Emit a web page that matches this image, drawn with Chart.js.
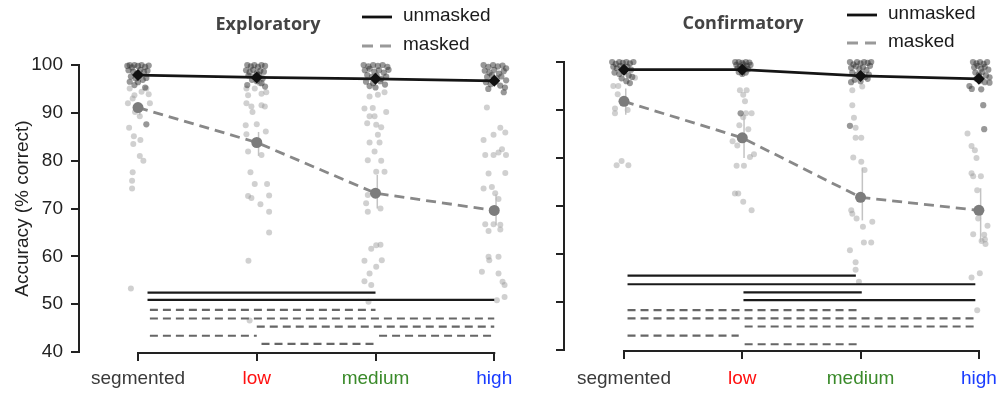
<!DOCTYPE html>
<html><head><meta charset="utf-8">
<script src="https://cdn.jsdelivr.net/npm/chart.js@4.4.1/dist/chart.umd.min.js"></script>
<style>
html,body{margin:0;padding:0;background:#fff;width:1005px;height:393px;overflow:hidden;}
canvas{position:absolute;top:0;}
#cl{left:0}
#cr{left:520px}
</style></head><body>
<canvas id="cl" width="520" height="393"></canvas>
<canvas id="cr" width="485" height="393"></canvas>
<script>
// ---------- DATA ----------
const categories = ['segmented', 'low', 'medium', 'high'];
const yTickValues = [40, 50, 60, 70, 80, 90, 100];
const panelTitles = ['Exploratory', 'Confirmatory'];
const legendLabels = ['unmasked', 'masked'];
const yAxisTitle = 'Accuracy (% correct)';

// group means
const expUnmaskedMean = [97.9, 97.4, 97.1, 96.7];
const expMaskedMean = [91.1, 83.8, 73.2, 69.6];
const confUnmaskedMean = [98.4, 98.4, 97.1, 96.5];
const confMaskedMean = [91.8, 84.2, 71.8, 69.1];

// error bars of masked means [low, high]
const expMaskedErr = [[89.5, 92.0], [81.0, 86.0], [70.0, 77.0], [66.5, 73.0]];
const confMaskedErr = [[89.0, 94.5], [80.0, 89.0], [67.0, 78.0], [62.5, 73.7]];

// individual subjects: [jitter offset (category units), accuracy]
const expUnmaskedPts = [
  [[-0.09,99.8],[-0.07,100],[-0.05,99.5],[-0.03,100],[0,99.8],[0.03,100],[0.06,99.6],[0.09,99.9],[-0.08,98.9],[-0.04,98.6],[-0.01,98.2],[0.02,99.0],[0.05,98.5],[0.08,98.8],[-0.06,97.6],[-0.02,97.2],[0.01,97.8],[0.04,96.9],[0.07,97.3],[-0.07,96.5],[0.0,96.4],[0.06,95.3],[-0.03,95.8],[0.07,87.6]],
  [[-0.08,100],[-0.05,99.7],[-0.02,100],[0.01,99.6],[0.04,100],[0.07,99.8],[-0.09,98.9],[-0.06,98.5],[-0.03,99.0],[0.0,98.3],[0.03,98.8],[0.06,98.6],[-0.07,97.8],[-0.02,97.5],[0.02,97.9],[0.05,97.2],[-0.04,96.9],[0.0,96.6],[0.04,96.2],[-0.08,95.8],[0.07,95.5]],
  [[-0.1,100],[-0.06,99.7],[-0.02,100],[0.02,99.8],[0.06,100],[0.1,99.6],[-0.09,98.9],[-0.05,99.2],[-0.01,98.6],[0.03,98.9],[0.07,98.4],[0.11,99.0],[-0.07,97.9],[-0.03,97.5],[0.01,97.8],[0.05,97.1],[0.09,97.6],[-0.08,96.5],[-0.02,96.2],[0.04,96.6],[0.08,95.9],[0.0,95.3],[-0.05,95.6]],
  [[-0.09,100],[-0.05,99.6],[-0.01,100],[0.03,99.7],[0.07,99.9],[0.1,99.3],[-0.08,98.8],[-0.04,98.4],[0.0,99.0],[0.04,98.2],[0.08,98.7],[-0.06,97.5],[-0.02,97.9],[0.02,97.2],[0.06,97.6],[0.1,96.8],[-0.07,96.4],[-0.03,96.0],[0.01,96.5],[0.05,95.7],[0.09,95.3],[-0.05,95.0],[0.08,94.3]]
];
const expMaskedPts = [
  [[-0.07,95.1],[-0.03,93.7],[-0.045,93.0],[-0.085,92.0],[0.03,94.4],[0.07,95.1],[0.09,93.9],[0.10,92.0],[-0.025,90.2],[0.015,89.3],[-0.075,86.9],[-0.035,85.1],[0.02,84.3],[-0.04,83.5],[0.015,81.0],[0.045,80.0],[-0.045,77.6],[-0.05,75.8],[-0.05,74.2],[-0.06,53.3]],
  [[-0.087,95.1],[-0.017,95.1],[0.025,96.2],[-0.073,93.7],[0.04,94.0],[0.08,94.3],[-0.087,92.0],[-0.045,91.3],[0.04,91.6],[0.068,91.3],[-0.036,90.2],[-0.093,87.4],[0.0,87.6],[0.076,86.1],[-0.087,85.5],[-0.073,81.9],[0.04,81.2],[-0.053,77.6],[-0.017,75.1],[0.087,75.1],[-0.073,72.6],[-0.045,72.2],[0.031,70.9],[0.104,72.7],[0.104,69.3],[0.104,65.0],[-0.07,59.1],[-0.06,46.6]],
  [[-0.05,93.4],[0.02,93.8],[0.076,94.3],[-0.093,90.9],[-0.023,91.0],[0.09,90.2],[-0.05,89.3],[-0.008,89.3],[-0.07,87.8],[0.006,87.5],[0.048,87.0],[0.02,85.4],[-0.05,83.8],[0.034,83.8],[-0.008,81.9],[-0.065,80.1],[0.048,80.0],[0.006,77.7],[0.076,77.7],[-0.065,72.8],[-0.079,71.1],[-0.065,69.3],[0.042,70.0],[-0.036,61.6],[0.006,62.3],[0.042,62.4],[-0.093,59.1],[0.053,59.2],[0.006,57.8],[-0.05,56.4],[-0.093,54.8],[-0.036,54.0],[-0.059,50.5]],
  [[-0.062,91.1],[0.051,86.9],[-0.006,85.4],[0.093,85.9],[-0.09,84.3],[0.065,82.4],[-0.076,81.2],[-0.006,81.2],[0.036,81.7],[0.099,81.2],[-0.048,77.3],[0.093,77.4],[-0.09,74.2],[-0.02,74.5],[0.008,73.2],[0.036,72.0],[-0.076,66.7],[-0.006,66.7],[0.051,66.6],[0.051,65.6],[-0.048,65.3],[-0.048,59.9],[0.036,59.9],[-0.042,59.2],[-0.104,56.8],[0.036,56.4],[0.07,54.7],[0.087,54.0],[0.087,51.5],[0.022,50.8]]
];
const confUnmaskedPts = [
  [[-0.1,100],[-0.07,99.6],[-0.04,100],[-0.01,99.8],[0.02,100],[0.05,99.7],[0.08,100],[-0.09,99.0],[-0.06,98.7],[-0.03,99.2],[0.0,98.6],[0.03,99.0],[0.06,98.4],[-0.08,97.8],[-0.04,97.5],[0.0,97.9],[0.04,97.2],[0.07,96.9],[-0.02,96.6],[0.02,96.0],[0.05,95.6]],
  [[-0.06,100],[-0.03,100],[0.0,99.8],[0.03,100],[0.06,99.9],[-0.05,99.4],[-0.02,99.1],[0.01,99.5],[0.04,99.2],[0.07,99.4],[-0.04,98.7],[-0.01,98.4],[0.02,98.8],[0.05,98.5],[-0.03,97.9],[0.03,97.8],[0.0,97.5],[-0.014,89.3]],
  [[-0.09,100],[-0.06,99.5],[-0.03,100],[0.0,99.7],[0.03,100],[0.06,99.8],[0.09,100],[-0.08,98.8],[-0.04,99.1],[-0.01,98.5],[0.02,98.9],[0.05,98.3],[0.08,99.2],[-0.07,97.8],[-0.03,97.4],[0.01,97.6],[0.04,96.9],[0.07,97.4],[-0.05,96.3],[0.0,96.0],[-0.08,95.8],[0.06,96.5],[-0.09,86.7]],
  [[-0.05,100],[-0.02,99.7],[0.01,100],[0.04,99.6],[0.07,100],[-0.04,98.9],[-0.01,99.2],[0.02,98.6],[0.05,99.0],[0.08,98.4],[-0.03,97.8],[0.0,97.4],[0.03,97.9],[0.06,97.2],[0.09,96.8],[-0.02,96.5],[0.01,96.1],[0.05,95.8],[-0.08,95.0],[-0.06,94.4],[0.02,94.3],[0.09,95.7],[0.037,91.0],[0.045,86.0]]
];
const confMaskedPts = [
  [[-0.09,95.0],[-0.048,95.0],[0.093,96.7],[-0.053,93.3],[-0.076,90.3],[-0.076,89.3],[0.031,90.0],[-0.062,78.5],[-0.02,79.4],[0.037,78.5]],
  [[-0.02,94.1],[0.037,94.1],[0.008,93.2],[0.023,91.8],[0.031,89.3],[0.079,89.3],[0.008,88.5],[-0.025,86.8],[0.051,86.0],[-0.082,83.5],[-0.042,82.6],[0.065,80.2],[0.099,80.8],[-0.048,78.4],[0.014,78.4],[-0.062,72.6],[-0.034,72.6],[0.008,70.9],[0.079,69.1]],
  [[-0.07,94.1],[0.014,94.9],[-0.07,91.0],[-0.056,88.4],[-0.042,86.3],[-0.042,84.2],[0.006,84.2],[-0.062,80.1],[0.006,79.2],[0.034,77.5],[-0.079,69.1],[-0.07,68.4],[-0.034,67.4],[0.099,66.7],[0.02,65.7],[0.028,62.4],[0.09,62.4],[-0.09,60.8],[-0.042,58.3],[-0.042,56.7],[-0.014,54.2]],
  [[-0.096,85.1],[-0.062,82.5],[-0.034,81.6],[-0.02,80.0],[-0.062,76.8],[-0.048,76.2],[0.017,76.2],[-0.014,73.3],[-0.006,67.4],[0.073,65.9],[-0.048,64.1],[0.045,64.0],[0.051,63.0],[0.023,62.7],[0.056,62.1],[0.008,56.0],[-0.062,55.1],[-0.014,48.3]]
];

// pairwise significance bars: [from category, to category, height]
const expSigSolid = [[0.08, 2.0, 52.4], [0.08, 3.0, 50.9]];
const expSigDashed = [[0.1, 2.0, 48.8], [0.1, 3.0, 47.0], [1.0, 3.0, 45.3], [0.1, 1.0, 43.4], [2.03, 3.0, 43.4], [1.04, 2.0, 41.7]];
const confSigSolid = [[0.03, 1.96, 55.5], [0.03, 2.97, 53.7], [1.01, 2.01, 52.0], [1.01, 2.97, 50.4]];
const confSigDashed = [[0.03, 1.98, 48.3], [0.03, 2.97, 46.6], [1.02, 2.97, 44.9], [0.03, 0.97, 43.0], [1.02, 1.98, 41.2]];

// ---------- STYLE ----------
const FONT = '"Liberation Sans", Arial, Helvetica, sans-serif';
const catColors = ['#3a3a3a', '#ff1010', '#3a8a2a', '#1a3cff'];
Chart.defaults.font.family = FONT;
Chart.defaults.font.size = 19;
Chart.defaults.color = '#222';

function pointsOf(groups) {
  const out = [];
  groups.forEach((g, ci) => g.forEach(([off, v]) => out.push({x: ci + off, y: v})));
  return out;
}
function meanOf(arr) { return arr.map((v, i) => ({x: i, y: v})); }

function makeChart(el, d, L) {
  const datasets = [];
  datasets.push({
    type: 'scatter', data: pointsOf(d.masked), pointRadius: 3, pointBorderWidth: 0,
    backgroundColor: 'rgba(150,150,150,0.45)', order: 7, clip: false
  });
  datasets.push({
    type: 'scatter', data: pointsOf(d.unmasked), pointRadius: 3.1, pointBorderWidth: 0,
    backgroundColor: 'rgba(50,50,50,0.5)', order: 6, clip: false
  });
  d.err.forEach(([lo, hi], i) => datasets.push({
    type: 'scatter', showLine: true, data: [{x: i + 0.015, y: lo}, {x: i + 0.015, y: hi}],
    borderColor: 'rgba(185,185,185,0.85)', borderWidth: 1.5, pointRadius: 0, order: 5, clip: false
  }));
  d.sigSolid.forEach(([a, b, h]) => datasets.push({
    type: 'scatter', showLine: true, data: [{x: a, y: h}, {x: b, y: h}],
    borderColor: '#1a1a1a', borderWidth: 2.2, pointRadius: 0, order: 4, clip: false
  }));
  d.sigDashed.forEach(([a, b, h]) => datasets.push({
    type: 'scatter', showLine: true, data: [{x: a, y: h}, {x: b, y: h}],
    borderColor: '#666', borderWidth: 2.2, borderDash: [8, 5], pointRadius: 0, order: 4, clip: false
  }));
  datasets.push({
    type: 'scatter', showLine: true, data: meanOf(d.maskedMean), borderColor: '#888', borderWidth: 2.8,
    borderDash: [10, 6], pointRadius: 5.5, pointBackgroundColor: '#7c7c7c', pointBorderColor: '#7c7c7c',
    pointBorderWidth: 0, order: 2, clip: false
  });
  datasets.push({
    type: 'scatter', showLine: true, data: meanOf(d.unmaskedMean), borderColor: '#151515', borderWidth: 2.8,
    pointStyle: 'rectRot', pointRadius: 6, pointBackgroundColor: '#111', pointBorderColor: '#111',
    pointBorderWidth: 0, order: 1, clip: false
  });

  const deco = {
    id: 'deco',
    beforeDatasetsDraw(chart) {
      const {ctx, chartArea: ca, scales: {x, y}} = chart;
      ctx.save();
      ctx.strokeStyle = '#222'; ctx.lineWidth = 2;
      ctx.beginPath();
      ctx.moveTo(ca.left, y.getPixelForValue(yTickValues[0]) + 1);
      ctx.lineTo(ca.left, y.getPixelForValue(yTickValues[yTickValues.length - 1]) - 1);
      ctx.moveTo(x.getPixelForValue(0) - 1, ca.bottom + 1);
      ctx.lineTo(x.getPixelForValue(categories.length - 1) + 1, ca.bottom + 1);
      ctx.stroke();
      ctx.restore();
    },
    afterDraw(chart) {
      const ctx = chart.ctx;
      ctx.save();
      ctx.fillStyle = '#444';
      ctx.font = 'bold 18px "Open Sans", ' + FONT;
      ctx.textAlign = 'center'; ctx.textBaseline = 'middle';
      ctx.fillText(d.title, L.titleX, L.titleY);
      // legend
      ctx.lineWidth = 2.8;
      ctx.strokeStyle = '#111';
      ctx.beginPath(); ctx.moveTo(L.legX, L.legY1); ctx.lineTo(L.legX + 30, L.legY1); ctx.stroke();
      ctx.strokeStyle = '#999'; ctx.setLineDash([11, 7]);
      ctx.beginPath(); ctx.moveTo(L.legX, L.legY2); ctx.lineTo(L.legX + 30, L.legY2); ctx.stroke();
      ctx.setLineDash([]);
      ctx.fillStyle = '#1a1a1a';
      ctx.font = '19px ' + FONT;
      ctx.textAlign = 'left';
      ctx.fillText(legendLabels[0], L.legX + 41, L.legY1 - 1);
      ctx.fillText(legendLabels[1], L.legX + 41, L.legY2 - 1);
      ctx.restore();
    }
  };

  return new Chart(el, {
    type: 'scatter',
    data: {datasets},
    plugins: [deco],
    options: {
      responsive: false, animation: false, devicePixelRatio: 1,
      layout: {autoPadding: false, padding: {left: L.padLeft, top: L.top, right: 2, bottom: 0}},
      plugins: {legend: {display: false}, tooltip: {enabled: false}, title: {display: false}},
      scales: {
        x: {
          type: 'linear', min: L.xmin, max: L.xmax,
          afterBuildTicks: s => { s.ticks = categories.map((c, i) => ({value: i})); },
          afterFit: s => { s.height = 393 - L.bottom; },
          ticks: {
            callback: v => categories[v], padding: L.xPad, autoSkip: false, maxRotation: 0,
            color: c => catColors[c.index], font: {size: 19}
          },
          grid: {drawOnChartArea: false, drawTicks: true, tickLength: 9, lineWidth: 2, color: '#222'},
          border: {display: false}
        },
        y: {
          type: 'linear', min: 40, max: 100,
          afterBuildTicks: s => { s.ticks = yTickValues.map(v => ({value: v})); },
          afterFit: s => { s.width = L.axisX - L.padLeft; },
          ticks: {
            callback: v => (L.showY ? String(v) : ''), padding: 8, color: '#222', font: {size: 19}
          },
          title: {display: L.showY, text: yAxisTitle, color: '#222', font: {size: 19}, padding: 0},
          grid: {drawOnChartArea: false, drawTicks: true, tickLength: 8, lineWidth: 2, color: '#222'},
          border: {display: false}
        }
      }
    }
  });
}

makeChart(document.getElementById('cl'), {
  title: panelTitles[0], masked: expMaskedPts, unmasked: expUnmaskedPts, err: expMaskedErr,
  sigSolid: expSigSolid, sigDashed: expSigDashed, maskedMean: expMaskedMean, unmaskedMean: expUnmaskedMean
}, {padLeft: 11, axisX: 79, top: 65, bottom: 352, xmin: -0.497, xmax: 3.2, xPad: 6, showY: true,
    titleX: 268, titleY: 25, legX: 362, legY1: 17, legY2: 46});

makeChart(document.getElementById('cr'), {
  title: panelTitles[1], masked: confMaskedPts, unmasked: confUnmaskedPts, err: confMaskedErr,
  sigSolid: confSigSolid, sigDashed: confSigDashed, maskedMean: confMaskedMean, unmaskedMean: confUnmaskedMean
}, {padLeft: 0, axisX: 44, top: 62, bottom: 350, xmin: -0.507, xmax: 3.204, xPad: 8, showY: false,
    titleX: 223, titleY: 24, legX: 327, legY1: 15, legY2: 43});
</script>
</body></html>
